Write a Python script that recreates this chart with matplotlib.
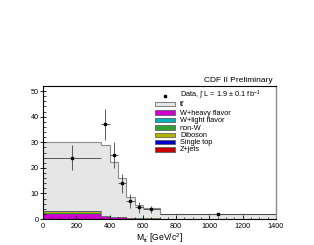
import numpy as np
import matplotlib
matplotlib.use("Agg")
import matplotlib.pyplot as plt
from matplotlib.patches import Rectangle

plt.rcParams['font.family'] = ['Liberation Sans', 'DejaVu Sans']
plt.rcParams['mathtext.fontset'] = 'custom'
plt.rcParams['mathtext.rm'] = 'Liberation Sans'
plt.rcParams['mathtext.it'] = 'Liberation Sans:italic'

# bin edges of the M_tt histogram [GeV/c^2]
edges = [0, 350, 400, 450, 500, 550, 600, 700, 1400]

# stacked expectations (bottom to top)
whf = [1.8, 0.7, 0.5, 0.35, 0.22, 0.17, 0.14, 0.05]
wlf = [0.35, 0.15, 0.1, 0.07, 0.05, 0.04, 0.03, 0.01]
nonw = [0.35, 0.15, 0.1, 0.07, 0.05, 0.03, 0.03, 0.01]
diboson = [0.15, 0.07, 0.05, 0.03, 0.02, 0.02, 0.01, 0.01]
singletop = [0.4, 0.15, 0.1, 0.06, 0.04, 0.03, 0.02, 0.01]
zjets = [0.15, 0.08, 0.05, 0.02, 0.02, 0.01, 0.02, 0.01]
ttbar = [27.0, 27.6, 21.5, 15.3, 8.3, 5.2, 3.95, 1.9]

# data points
data_y = [24, 37, 25, 14, 7, 4.6, 3.8, 1.8]
data_err = [4.8, 6.0, 5.0, 3.7, 2.6, 2.1, 1.4, 0.6]

edges_a = np.array(edges)
centers = 0.5 * (edges_a[1:] + edges_a[:-1])
halfw = 0.5 * (edges_a[1:] - edges_a[:-1])

W, H = 314, 245
fig = plt.figure(figsize=(W / 100, H / 100), dpi=100)
ax = fig.add_axes([0.137, 0.106, 0.742, 0.543])

comps = [
    (whf, '#cc00cc', 'W+heavy flavor'),
    (wlf, '#00b4b4', 'W+light flavor'),
    (nonw, '#33a033', 'non-W'),
    (diboson, '#b4b400', 'Diboson'),
    (singletop, '#0000c8', 'Single top'),
    (zjets, '#c80000', 'Z+jets'),
]

# stack: ttbar on top, drawn first so backgrounds sit over it
bottom = np.zeros(len(ttbar))
for vals, col, lab in comps:
    bottom = bottom + np.array(vals)
total = bottom + np.array(ttbar)
ax.stairs(total, edges, baseline=0, fill=True, color='#e6e6e6')
ax.stairs(total, edges, baseline=None, color='#8c8c8c', lw=0.8)

base = np.zeros(len(ttbar))
for vals, col, lab in comps:
    top = base + np.array(vals)
    ax.stairs(top, edges, baseline=base, fill=True, color=col)
    base = top
ax.stairs(base, edges, baseline=None, color='#707070', lw=0.6)

ax.errorbar(centers, data_y, yerr=data_err, xerr=halfw, fmt='s', ms=2,
            color='black', ecolor='#404040', elinewidth=0.6, capsize=0)

ax.set_xlim(0, 1400)
ax.set_ylim(0, 52)
ax.set_xticks(np.arange(0, 1401, 200))
ax.set_xticks(np.arange(0, 1401, 50), minor=True)
ax.set_yticks(np.arange(0, 51, 10))
ax.set_yticks(np.arange(0, 52, 2), minor=True)
ax.tick_params(axis='y', which='major', direction='inout', length=4, width=0.6,
               labelsize=5.2, pad=1)
ax.tick_params(axis='y', which='minor', direction='in', length=2, width=0.5)
ax.tick_params(axis='x', which='major', direction='in', length=3, width=0.6,
               labelsize=5.2, pad=3)
ax.tick_params(axis='x', which='minor', direction='in', length=1.5, width=0.5)
for s in ['left', 'bottom', 'top']:
    ax.spines[s].set_linewidth(0.8)
ax.spines['right'].set_color('#8c8c8c')
ax.spines['right'].set_linewidth(1.0)

ax.set_xlabel(r"M$_{\mathrm{t\bar{t}}}$ [GeV/c$^{2}$]", fontsize=6.2, labelpad=0.5)

fig.text(0.869, 0.67, "CDF II Preliminary", ha='right', va='center', fontsize=6)

# legend drawn by hand (positions in figure pixels)
rows_y = [95.7, 104, 112.5, 120, 127.5, 134.8, 142, 149.3]
fs_leg = 5.3
fig.add_artist(plt.Line2D([165 / W], [1 - rows_y[0] / H], marker='s', ms=1.8,
                          color='black', ls='none', transform=fig.transFigure))
fig.text(180 / W, 1 - (rows_y[0] + 1.5) / H,
         "Data, \u222b L = 1.9 \u00b1 0.1 fb$^{-1}$",
         fontsize=fs_leg, va='baseline', ha='left')
leg_items = [('#e6e6e6', "t\u0304t\u0304")] + [(c, l) for _, c, l in comps]
for yy, (col, lab) in zip(rows_y[1:], leg_items):
    fig.add_artist(Rectangle((155 / W, 1 - (yy + 2.2) / H), 20 / W, 4.4 / H,
                             facecolor=col, edgecolor='#505050', lw=0.5,
                             transform=fig.transFigure))
    fig.text(180 / W, 1 - (yy + 2.0) / H, lab, fontsize=fs_leg,
             va='baseline', ha='left')

fig.savefig("out.png", dpi=100)
